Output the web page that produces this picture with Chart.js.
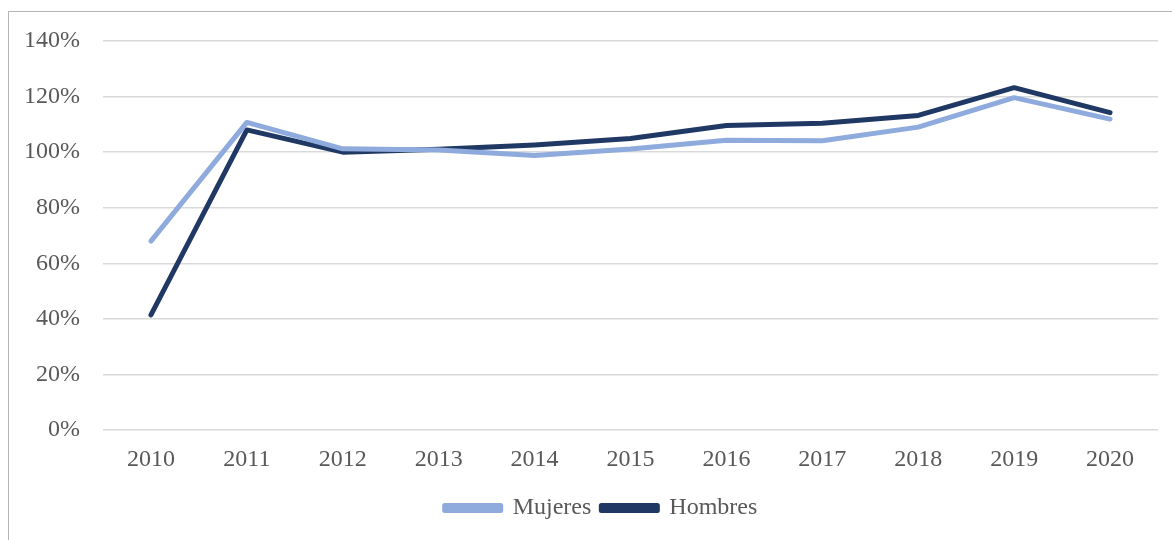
<!DOCTYPE html>
<html>
<head>
<meta charset="utf-8">
<script src="https://cdn.jsdelivr.net/npm/chart.js@4/dist/chart.umd.min.js"></script>
<style>
  html, body { margin: 0; padding: 0; background: #fff; overflow: hidden; }
  #wrap { position: relative; width: 1172px; height: 540px; }
  #frame { position: absolute; left: 8px; top: 11px; width: 1200px; height: 600px;
           border-left: 1px solid #b4b4b4; border-top: 1px solid #b4b4b4; }
  canvas { position: absolute; left: 0; top: 0; }
</style>
</head>
<body>
<div id="wrap">
  <div id="frame"></div>
  <canvas id="chart" width="1172" height="540"></canvas>
</div>
<script>
// Datos (porcentaje)
const years = ["2010", "2011", "2012", "2013", "2014", "2015", "2016", "2017", "2018", "2019", "2020"]
const mujeres = [68, 110.7, 101.2, 100.8, 98.8, 101.1, 104.3, 104.1, 109, 119.6, 111.9]
const hombres = [41.4, 108, 100, 101, 102.6, 104.9, 109.6, 110.4, 113.2, 123.2, 114.2]
const yTicks = [0, 20, 40, 60, 80, 100, 120, 140]

const textColor = "#595959"
const fontFamily = "'Liberation Serif', 'Times New Roman', serif"

// desplazar la leyenda para centrarla como en el original
const legendShift = {
  id: "legendShift",
  afterLayout(chart) {
    if (chart.legend) chart.legend.left = 44
  },
}

new Chart(document.getElementById("chart"), {
  type: "line",
  data: {
    labels: years,
    datasets: [
      {
        label: "Mujeres",
        data: mujeres,
        borderColor: "#8faadc",
        backgroundColor: "#8faadc",
        borderWidth: 5,
        borderCapStyle: "round",
        borderJoinStyle: "round",
        pointRadius: 0,
        tension: 0,
      },
      {
        label: "Hombres",
        data: hombres,
        borderColor: "#203864",
        backgroundColor: "#203864",
        borderWidth: 5,
        borderCapStyle: "round",
        borderJoinStyle: "round",
        pointRadius: 0,
        tension: 0,
      },
    ],
  },
  plugins: [legendShift],
  options: {
    responsive: false,
    animation: false,
    layout: { padding: { top: 41, right: 14, bottom: 10, left: 0 } },
    scales: {
      x: {
        offset: true,
        grid: { display: false, drawTicks: false },
        border: { display: false },
        ticks: { color: textColor, padding: 15, font: { family: fontFamily, size: 24 } },
        afterFit: (scale) => { scale.height = 56 },
      },
      y: {
        min: 0,
        max: 140,
        afterBuildTicks: (scale) => { scale.ticks = yTicks.map((v) => ({ value: v })) },
        grid: { color: "#d9d9d9", lineWidth: 1.5, drawTicks: false },
        border: { display: false },
        ticks: {
          color: textColor,
          padding: 23,
          font: { family: fontFamily, size: 24 },
          callback: (v) => v + "%",
        },
        afterFit: (scale) => { scale.width = 103 },
      },
    },
    plugins: {
      legend: {
        position: "bottom",
        labels: {
          color: textColor,
          font: { family: fontFamily, size: 24 },
          boxWidth: 56,
          boxHeight: 5,
          padding: 10,
        },
      },
      tooltip: { enabled: false },
    },
  },
})
</script>
</body>
</html>
